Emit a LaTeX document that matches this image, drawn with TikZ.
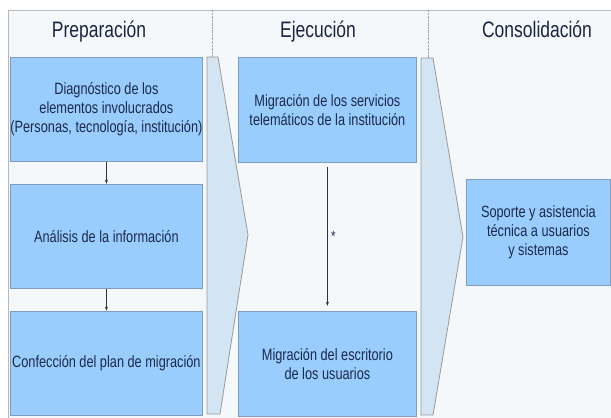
\documentclass[tikz,border=0pt]{standalone}
\usepackage{fontspec}
\setmainfont[FakeStretch=0.78]{Liberation Sans}
\usetikzlibrary{positioning,arrows.meta}
\definecolor{panel}{HTML}{F4F8FB}
\definecolor{boxblue}{HTML}{99CCFF}
\definecolor{boxline}{HTML}{7F9CB8}
\definecolor{chev}{HTML}{D3E5F3}
\definecolor{ink}{HTML}{1C2A48}
\begin{document}
\begin{tikzpicture}[x=1bp, y=-1bp, node distance={22bp},
    main/.style = {draw=boxline, fill=boxblue, line width=0.8bp, text=ink, align=center,
      font=\fontsize{16.4}{19}\selectfont, inner sep=0bp},
    head/.style = {text=ink!90!black, anchor=base, font=\fontsize{22.5}{25}\selectfont},
    chevron/.style = {draw=gray!80, fill=chev, line width=0.8bp},
    link/.style = {draw=black!80, line width=0.7bp, -{Stealth[length=4bp, width=3bp]}}]
    \useasboundingbox (0,0) rectangle (611,417);
    \fill[white] (0,0) rectangle (611,417);
    \draw[gray!55, fill=panel] (8,10) rectangle (620,430);
    \draw[gray!70, densely dotted] (212,10) -- (212,57);
    \draw[gray!70, densely dotted] (428,10) -- (428,58);
    \node[head] (h1) at (99,37) {Preparación};
    \node[head] (h2) at (318,37) {Ejecución};
    \node[head] (h3) at (537,37) {Consolidación};
    \draw[chevron] (207,57) -- (218,57) -- (248,235) -- (220,414) -- (207,414) -- cycle;
    \draw[chevron] (421,58) -- (433,58) -- (463,237) -- (433,415) -- (421,415) -- cycle;
    \node[main, minimum width=192bp, minimum height=104bp, anchor=north west] (1) at (10,57)
      {Diagnóstico de los\\elementos involucrados\\(Personas, tecnología, institución)};
    \node[main, minimum width=192bp, minimum height=104bp] (2)[below=of 1] {Análisis de la información};
    \node[main, minimum width=192bp, minimum height=104bp] (3)[below=of 2] {Confección del plan de migración};
    \node[main, minimum width=178bp, minimum height=105bp, anchor=north west] (4) at (238,57)
      {Migración de los servicios\\telemáticos de la institución};
    \node[main, minimum width=178bp, minimum height=105bp] (5)[below=148bp of 4]
      {Migración del escritorio\\de los usuarios};
    \node[main, minimum width=144bp, minimum height=106bp, anchor=west] (6) at (466,232)
      {Soporte y asistencia\\técnica a usuarios\\y sistemas};
    \draw[link] (1) -- (2);
    \draw[link] (2) -- (3);
    \draw[link, shorten <=4bp, shorten >=5bp] (4) -- node [midway, right, text=ink, font=\fontsize{15}{16}\selectfont] {*}(5);
\end{tikzpicture}
\end{document}
